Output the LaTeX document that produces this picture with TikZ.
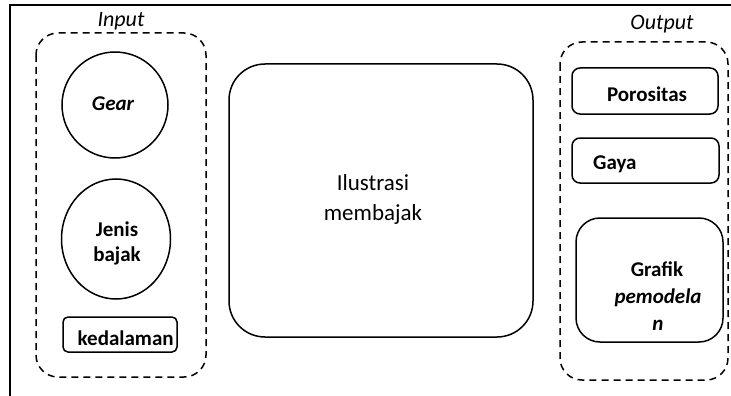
\documentclass[tikz,border=0pt]{standalone}
\usepackage{fontspec}
\setmainfont{Carlito}
\usetikzlibrary{shapes.geometric}
\begin{document}
\begin{tikzpicture}[x=1pt,y=-1pt,
  solidline/.style={draw=black,line width=1.5pt},
  dashbox/.style={draw=black,line width=1.5pt,dash pattern=on 7pt off 5pt,rounded corners=22pt},
  lbl/.style={font=\fontsize{22}{26}\selectfont\itshape,inner sep=0pt},
  bl/.style={font=\fontsize{21}{25}\selectfont\bfseries,inner sep=0pt,align=center},
  rbox/.style={solidline,rounded corners=8pt}]
\useasboundingbox (0,0) rectangle (731,396);
\fill[white] (0,0) rectangle (731,396);
% frame
\draw[line width=2pt] (731,5.5) -- (9.7,5.5) -- (9.7,396);
% input group
\node[lbl] (inlbl) at (121,21) {Input};
\draw[dashbox] (36,33) rectangle (206,377);
\node[circle,solidline,minimum size=106pt,inner sep=0pt] (gear) at (115,105) {};
\node[bl,font=\fontsize{21}{25}\selectfont\bfseries\itshape] (geart) at (113,104) {Gear};
\node[ellipse,solidline,minimum width=109pt,minimum height=120pt,inner sep=0pt] (jenis) at (116,239) {};
\node[bl] (jenist) at (117,243) {Jenis\\bajak};
\draw[rbox,rounded corners=5pt] (63,317) rectangle (177,352);
\node[bl,anchor=west] (ked) at (77.5,338) {kedalaman};
% center
\draw[solidline,rounded corners=36pt] (229,64) rectangle (533,337);
\node[font=\fontsize{23}{30}\selectfont,align=center,inner sep=0pt] (ilus) at (373,199) {Ilustrasi\\membajak};
% output group
\node[lbl] (outlbl) at (662,24) {Output};
\draw[dashbox] (560,42) rectangle (728,380);
\draw[rbox] (572,68) rectangle (718,114);
\node[bl] (poro) at (647,94.5) {Porositas};
\draw[rbox] (572,138) rectangle (719,183);
\node[bl,anchor=west] (gaya) at (593,164) {Gaya};
\draw[solidline,rounded corners=24pt] (576,218) rectangle (723,342);
\node[bl,font=\fontsize{21}{27}\selectfont\bfseries] (graf) at (657,269) {Grafik};
\node[bl,font=\fontsize{21}{27}\selectfont\bfseries\itshape,align=center] (pem) at (658,310) {pemodela\\n};
\end{tikzpicture}
\end{document}
